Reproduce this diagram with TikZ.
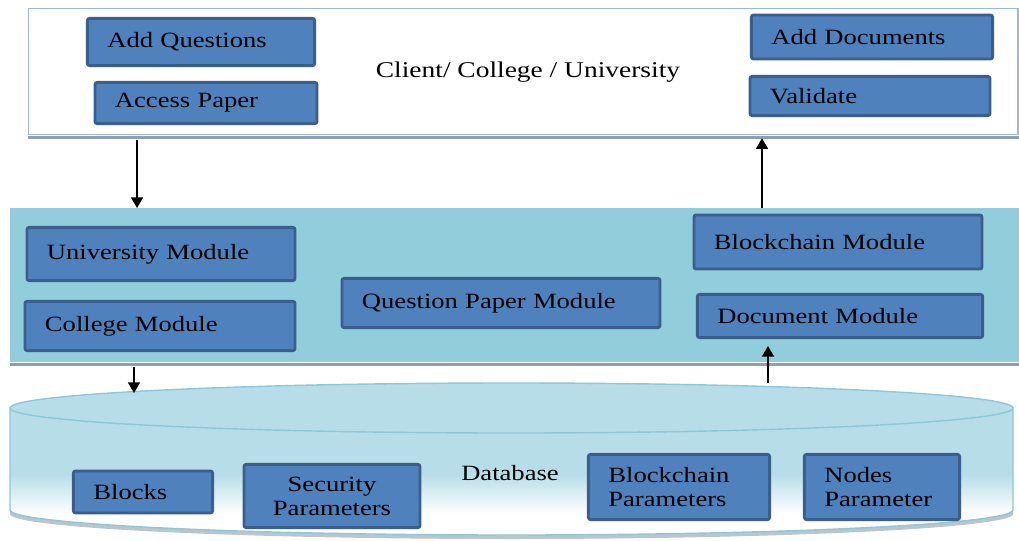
\documentclass[tikz,border=0pt]{standalone}
\usepackage{fontspec}
\setmainfont{Liberation Serif}[FakeStretch=1.22]
\usepackage{tikz}
\usetikzlibrary{arrows.meta, positioning, calc}
\definecolor{boxblue}{HTML}{4F81BD}
\definecolor{boxedge}{HTML}{3A5F8B}
\definecolor{midband}{HTML}{92CDDC}
\definecolor{dbfill}{HTML}{B7DDE8}
\definecolor{dbedge}{HTML}{8CC8D8}
\definecolor{topedge}{HTML}{9BB7D9}
\definecolor{shadowgray}{HTML}{8E9FAE}

\begin{document}
\begin{tikzpicture}[x=0.025cm, y=-0.025cm,
  mod/.style={rectangle, rounded corners=1.5pt, draw=boxedge, line width=2pt, fill=boxblue, align=left, inner xsep=0.5cm, inner ysep=0pt, font=\fontsize{15.5}{17}\selectfont},
  panel/.style={rectangle, inner sep=0pt, anchor=north west},
  lbl/.style={font=\fontsize{15.5}{17}\selectfont},
  >={Triangle[width=8.5pt,length=7.5pt]}]
\useasboundingbox (0,0) rectangle (1019,540);
% client layer
\node[panel, draw=topedge, fill=white, line width=1pt, minimum width=24.725cm, minimum height=3.15cm] (cl) at (28,8) {};
\fill[shadowgray] ([yshift=-0.3pt]cl.south west) rectangle ([yshift=-2.5pt]cl.south east);
\node[lbl, font=\fontsize{16}{18}\selectfont] (cltxt) at (528,72) {Client/ College / University};
\node[mod, text width=4.68cm, minimum height=1.18cm] (addq) at (201,42) {Add Questions};
\node[mod, text width=4.55cm, minimum height=1.03cm] (accp) at (206,103) {Access Paper};
\node[mod, text width=5.03cm, minimum height=1.1cm]  (adoc) at (872,37) {Add Documents};
\node[mod, text width=5.0cm,  minimum height=0.98cm] (vald) at (870,96) {Validate};
% module layer
\node[panel, fill=midband, minimum width=25.225cm, minimum height=3.85cm] (mid) at (10,208) {};
\fill[shadowgray] (mid.south west) rectangle ([yshift=-2.5pt]mid.south east);
\node[mod, text width=5.7cm,  minimum height=1.33cm] (univ) at (161,254) {University Module};
\node[mod, text width=5.75cm, minimum height=1.23cm] (coll) at (160,326) {College Module};
\node[mod, text width=6.95cm, minimum height=1.23cm] (qpm)  at (501,303) {Question Paper Module};
\node[mod, text width=6.2cm,  minimum height=1.35cm] (bcm)  at (838,242) {Blockchain Module};
\node[mod, text width=6.13cm, minimum height=1.08cm] (docm) at (840,316) {Document Module};
% database
\fill[shadowgray!60] (10,412) -- (10,514) arc[start angle=180, end angle=0, x radius=501.5, y radius=25] -- (1013,412) -- cycle;
\begin{scope}
  \clip (10,408) -- (10,510) arc[start angle=180, end angle=0, x radius=501.5, y radius=25] -- (1013,408) arc[start angle=0, end angle=-180, x radius=501.5, y radius=25] -- cycle;
  \fill[dbfill] (0,380) rectangle (1019,474);
  \shade[top color=dbfill, bottom color=white] (0,474) rectangle (1019,514);
  \fill[white] (0,514) rectangle (1019,540);
\end{scope}
\draw[dbedge, line width=1pt] (10,408) -- (10,510) arc[start angle=180, end angle=0, x radius=501.5, y radius=25] -- (1013,408);
\draw[dbedge, line width=1pt] (511.5,408) ellipse [x radius=501.5, y radius=25];
\node[lbl] (dbtxt) at (510,473) {Database};
\node[mod, text width=2.48cm, minimum height=1.05cm] (blk) at (143,492) {Blocks};
\node[mod, text width=3.4cm, minimum height=1.58cm, align=center] (secp) at (332,496) {Security\\Parameters};
\node[mod, text width=3.53cm, minimum height=1.63cm] (bcp) at (679,487) {Blockchain\\Parameters};
\node[mod, text width=2.88cm, minimum height=1.63cm] (ndp) at (882,487) {Nodes\\Parameter};
% connectors
\coordinate (a1) at (137,0);
\coordinate (a2) at (762,0);
\coordinate (a3) at (134,0);
\coordinate (dbin) at (134,393);
\coordinate (dbout) at (768,383);
\draw[->, line width=1pt, shorten <=3pt] (cl.south -| a1) -- (mid.north -| a1);
\draw[->, line width=1pt, shorten >=2pt] (mid.north -| a2) -- (cl.south -| a2);
\draw[->, line width=1pt, shorten <=3pt] (mid.south -| a3) -- (dbin);
\draw[->, line width=1pt, shorten >=5pt] (dbout) -- (docm.south -| dbout);
\end{tikzpicture}
\end{document}
